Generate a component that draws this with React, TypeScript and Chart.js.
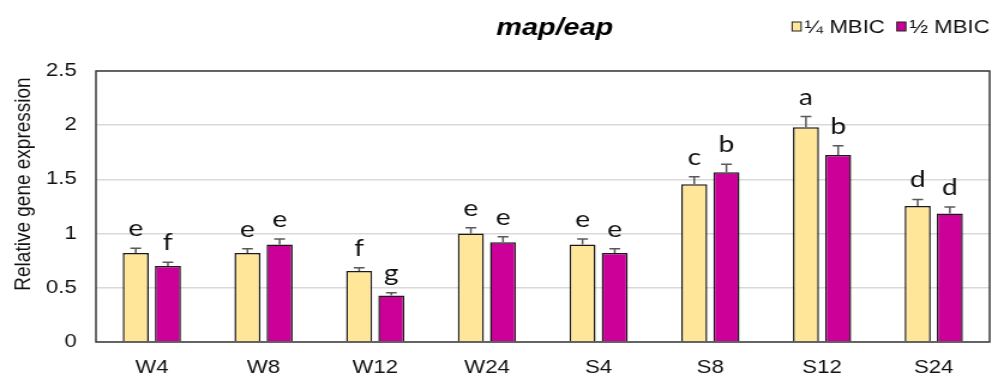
import { useEffect, useRef } from 'react';
import { Chart, registerables } from 'chart.js';

Chart.register(...registerables);

// Sampling points and relative expression of map/eap
const categories = ['W4', 'W8', 'W12', 'W24', 'S4', 'S8', 'S12', 'S24'];
const quarterMBIC = [0.82, 0.82, 0.655, 1.0, 0.9, 1.455, 1.98, 1.255];
const halfMBIC = [0.7, 0.9, 0.43, 0.92, 0.82, 1.565, 1.725, 1.185];
const quarterErr = [0.045, 0.04, 0.03, 0.055, 0.05, 0.07, 0.1, 0.06];
const halfErr = [0.035, 0.05, 0.025, 0.05, 0.04, 0.075, 0.085, 0.06];
const quarterLetters = ['e', 'e', 'f', 'e', 'e', 'c', 'a', 'd'];
const halfLetters = ['f', 'e', 'g', 'e', 'e', 'b', 'b', 'd'];
const seriesNames = ['\u00BC MBIC', '\u00BD MBIC'];
const seriesColors = ['#FFE699', '#CC0099'];
const yTicks = [0, 0.5, 1, 1.5, 2, 2.5];
const yTickLabels = ['0', '0.5', '1', '1.5', '2', '2.5'];

const chartTitle = 'map/eap';
const yTitle = 'Relative gene expression';

// The whole figure is laid out on a narrower canvas and widened horizontally.
const BASE_W = 827;
const BASE_H = 378;
const STRETCH = 992 / BASE_W;
const SANS = '"Liberation Sans", Arial, sans-serif';

const decorations = {
  id: 'decorations',
  afterDatasetsDraw(chart: any) {
    const { ctx } = chart;
    const y = chart.scales.y;
    const errs = [quarterErr, halfErr];
    const letters = [quarterLetters, halfLetters];
    ctx.save();
    chart.data.datasets.forEach((ds: any, di: number) => {
      const meta = chart.getDatasetMeta(di);
      meta.data.forEach((bar: any, i: number) => {
        const v = ds.data[i] as number;
        const top = y.getPixelForValue(v);
        const errTop = y.getPixelForValue(v + errs[di][i]);
        ctx.strokeStyle = '#595959';
        ctx.lineWidth = 1.5;
        ctx.beginPath();
        ctx.moveTo(bar.x, top);
        ctx.lineTo(bar.x, errTop);
        ctx.moveTo(bar.x - 4.5, errTop);
        ctx.lineTo(bar.x + 4.5, errTop);
        ctx.stroke();
        ctx.fillStyle = '#111';
        ctx.font = '23.5px Lato, "Open Sans", sans-serif';
        ctx.textAlign = 'center';
        ctx.textBaseline = 'alphabetic';
        ctx.fillText(letters[di][i], bar.x, errTop - 12);
      });
    });
    const { left, top, right, bottom } = chart.chartArea;
    ctx.strokeStyle = '#3a3a3a';
    ctx.lineWidth = 1.5;
    ctx.strokeRect(left, top, right - left, bottom - top);
    ctx.restore();
  },
  afterDraw(chart: any) {
    const { ctx, chartArea } = chart;
    ctx.save();

    // chart title
    ctx.fillStyle = '#000';
    ctx.font = `italic bold 24px ${SANS}`;
    ctx.textAlign = 'center';
    ctx.textBaseline = 'alphabetic';
    ctx.fillText(chartTitle, (chartArea.left + chartArea.right) / 2 + 10, 35);

    // y-axis title
    ctx.save();
    ctx.translate(25, 184);
    ctx.rotate(-Math.PI / 2);
    ctx.font = `19px ${SANS}`;
    ctx.fillStyle = '#111';
    ctx.textAlign = 'center';
    ctx.textBaseline = 'alphabetic';
    ctx.fillText(yTitle, 0, 0);
    ctx.restore();

    // legend, right-aligned with the plot frame
    ctx.font = `18.5px ${SANS}`;
    ctx.textAlign = 'left';
    const boxW = 7.5;
    const boxH = 9;
    const boxGap = 3;
    const itemGap = 10;
    const widths = seriesNames.map((n) => ctx.measureText(n).width);
    let total = 0;
    widths.forEach((w, i) => {
      total += boxW + boxGap + w + (i < widths.length - 1 ? itemGap : 0);
    });
    let x = chartArea.right - total;
    seriesNames.forEach((name, i) => {
      ctx.fillStyle = seriesColors[i];
      ctx.fillRect(x, 22, boxW, boxH);
      ctx.strokeStyle = '#222';
      ctx.lineWidth = 1;
      ctx.strokeRect(x, 22, boxW, boxH);
      ctx.fillStyle = '#111';
      ctx.fillText(name, x + boxW + boxGap, 33);
      x += boxW + boxGap + widths[i] + itemGap;
    });
    ctx.restore();
  },
};

export default function App() {
  const canvasRef = useRef<HTMLCanvasElement | null>(null);

  useEffect(() => {
    const prevMargin = document.body.style.margin;
    document.body.style.margin = '0';
    const canvas = canvasRef.current;
    if (!canvas) return;
    const chart = new Chart(canvas, {
      type: 'bar',
      data: {
        labels: categories,
        datasets: [
          {
            label: seriesNames[0],
            data: quarterMBIC,
            backgroundColor: seriesColors[0],
            borderColor: '#1a1a1a',
            borderWidth: 1.5,
            categoryPercentage: 0.576,
            barPercentage: 0.81,
          },
          {
            label: seriesNames[1],
            data: halfMBIC,
            backgroundColor: seriesColors[1],
            borderColor: '#1a1a1a',
            borderWidth: 1.5,
            categoryPercentage: 0.576,
            barPercentage: 0.81,
          },
        ],
      },
      options: {
        responsive: true,
        maintainAspectRatio: false,
        animation: false,
        layout: { padding: { top: 71, right: 2, bottom: 0, left: 0 } },
        plugins: {
          legend: { display: false },
          title: { display: false },
          tooltip: { enabled: false },
        },
        scales: {
          x: {
            grid: { display: false, drawTicks: false },
            border: { display: false },
            ticks: {
              color: '#111',
              font: { family: SANS, size: 18.5 },
              padding: 15,
              maxRotation: 0,
            },
            afterFit(scale: any) {
              scale.height = 36;
            },
          },
          y: {
            min: 0,
            max: 2.5,
            afterBuildTicks(scale: any) {
              scale.ticks = yTicks.map((v) => ({ value: v }));
            },
            grid: { color: '#D9D9D9', lineWidth: 1.5, drawTicks: false },
            border: { display: false },
            ticks: {
              color: '#111',
              font: { family: SANS, size: 18.5 },
              padding: 16,
              callback: (value: any) => {
                const idx = yTicks.indexOf(Number(value));
                return idx >= 0 ? yTickLabels[idx] : String(value);
              },
            },
            afterFit(scale: any) {
              scale.width = 80;
            },
          },
        },
      },
      plugins: [decorations],
    });
    return () => {
      chart.destroy();
      document.body.style.margin = prevMargin;
    };
  }, []);

  return (
    <div
      style={{
        position: 'relative',
        width: BASE_W,
        height: BASE_H,
        transform: `scaleX(${STRETCH})`,
        transformOrigin: '0 0',
      }}
    >
      <canvas ref={canvasRef} />
    </div>
  );
}
